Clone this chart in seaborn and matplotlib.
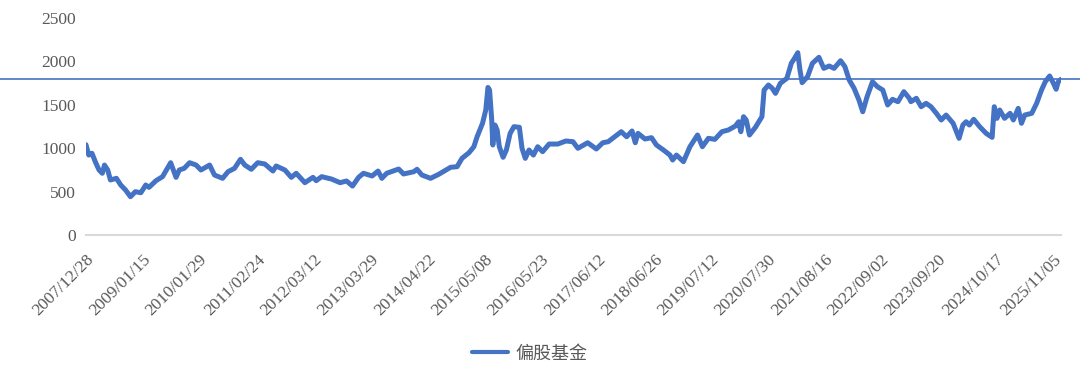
import matplotlib
matplotlib.use("Agg")
import matplotlib.pyplot as plt
import numpy as np
import pandas as pd
import seaborn as sns

SERIES_NAME = "偏股基金"
REF_LEVEL = 1795

# decimal-year positions of the traced points
years = [
    2007.99, 2008.04, 2008.10, 2008.16, 2008.23, 2008.29, 2008.33, 2008.39, 2008.44, 2008.55,
    2008.63, 2008.72, 2008.81, 2008.90, 2009.00, 2009.09, 2009.15, 2009.28, 2009.40, 2009.49,
    2009.55, 2009.65, 2009.71, 2009.80, 2009.90, 2010.02, 2010.11, 2010.27, 2010.36, 2010.51,
    2010.61, 2010.73, 2010.84, 2010.92, 2011.04, 2011.16, 2011.29, 2011.44, 2011.50, 2011.66,
    2011.78, 2011.87, 2012.03, 2012.18, 2012.24, 2012.34, 2012.52, 2012.68, 2012.80, 2012.91,
    2013.02, 2013.11, 2013.27, 2013.38, 2013.45, 2013.54, 2013.76, 2013.85, 2014.04, 2014.10,
    2014.19, 2014.35, 2014.50, 2014.72, 2014.84, 2014.93, 2015.06, 2015.15, 2015.21, 2015.31,
    2015.37, 2015.41, 2015.44, 2015.48, 2015.50, 2015.54, 2015.58, 2015.62, 2015.69, 2015.75,
    2015.82, 2015.89, 2015.99, 2016.04, 2016.10, 2016.17, 2016.25, 2016.33, 2016.42, 2016.54,
    2016.70, 2016.85, 2016.98, 2017.07, 2017.25, 2017.41, 2017.53, 2017.63, 2017.75, 2017.87,
    2017.97, 2018.07, 2018.13, 2018.18, 2018.31, 2018.43, 2018.52, 2018.65, 2018.77, 2018.82,
    2018.89, 2019.02, 2019.14, 2019.28, 2019.37, 2019.48, 2019.60, 2019.73, 2019.85, 2019.98,
    2020.04, 2020.08, 2020.13, 2020.18, 2020.24, 2020.35, 2020.47, 2020.51, 2020.59, 2020.66,
    2020.72, 2020.81, 2020.93, 2021.01, 2021.07, 2021.13, 2021.17, 2021.21, 2021.31, 2021.40,
    2021.52, 2021.61, 2021.71, 2021.80, 2021.92, 2022.00, 2022.08, 2022.17, 2022.26, 2022.33,
    2022.41, 2022.51, 2022.60, 2022.70, 2022.79, 2022.88, 2022.98, 2023.09, 2023.19, 2023.22,
    2023.32, 2023.41, 2023.50, 2023.59, 2023.69, 2023.78, 2023.87, 2024.00, 2024.11, 2024.18,
    2024.24, 2024.30, 2024.38, 2024.49, 2024.61, 2024.72, 2024.76, 2024.81, 2024.86, 2024.95,
    2025.05, 2025.11, 2025.20, 2025.26, 2025.32, 2025.45, 2025.54, 2025.63, 2025.70, 2025.78,
    2025.85, 2025.90, 2025.94, 2025.99,
]

values = [
    1040, 921, 941, 845, 749, 711, 806, 749, 634, 653,
    576, 518, 441, 499, 487, 576, 549, 626, 672, 768,
    833, 664, 749, 768, 833, 806, 749, 806, 691, 653,
    729, 768, 872, 806, 757, 833, 818, 737, 795, 749,
    664, 711, 603, 664, 626, 672, 645, 603, 622, 564,
    664, 711, 680, 737, 653, 711, 760, 703, 729, 757,
    691, 653, 699, 780, 787, 883, 948, 1017, 1132, 1287,
    1440, 1700, 1670, 1325, 1037, 1267, 1210, 1017, 895, 979,
    1171, 1248, 1241, 999, 883, 979, 921, 1017, 960, 1048,
    1048, 1083, 1075, 999, 1063, 991, 1063, 1075, 1132, 1190,
    1132, 1198, 1063, 1171, 1106, 1121, 1037, 979, 921, 864,
    921, 845, 1017, 1152, 1017, 1114, 1102, 1190, 1210, 1256,
    1305, 1190, 1363, 1325, 1152, 1241, 1363, 1670, 1728, 1690,
    1632, 1748, 1805, 1978, 2036, 2100, 1901, 1755, 1824, 1978,
    2047, 1920, 1947, 1920, 2008, 1940, 1786, 1690, 1555, 1420,
    1593, 1766, 1709, 1670, 1498, 1563, 1536, 1651, 1575, 1536,
    1575, 1478, 1517, 1478, 1402, 1325, 1382, 1287, 1114, 1267,
    1305, 1267, 1333, 1248, 1171, 1125, 1478, 1344, 1440, 1344,
    1402, 1325, 1459, 1287, 1382, 1402, 1517, 1670, 1766, 1832,
    1748, 1679, 1766, 1794,
]

tick_labels = [
    "2007/12/28", "2009/01/15", "2010/01/29", "2011/02/24", "2012/03/12",
    "2013/03/29", "2014/04/22", "2015/05/08", "2016/05/23", "2017/06/12",
    "2018/06/26", "2019/07/12", "2020/07/30", "2021/08/16", "2022/09/02",
    "2023/09/20", "2024/10/17", "2025/11/05",
]

y_ticks = [0, 500, 1000, 1500, 2000, 2500]

BLUE = "#4472C4"
GREY = "#595959"


def to_ts(y):
    yr = int(y)
    return pd.Timestamp(yr, 1, 1) + pd.Timedelta(days=(y - yr) * 365.25)


dates = [to_ts(y) for y in years]
dates[0] = pd.Timestamp(2007, 12, 28)
df = pd.DataFrame({"date": dates, "value": values})
tick_dates = pd.to_datetime(tick_labels, format="%Y/%m/%d")

sns.set_theme(style="white")
plt.rcParams["font.family"] = ["Liberation Serif", "Noto Sans CJK SC", "DejaVu Sans"]

W, H = 1080, 382
fig = plt.figure(figsize=(W / 100, H / 100), dpi=100)
ax_l, ax_r, ax_t, ax_b = 86, 1061, 18, 235
ax = fig.add_axes([ax_l / W, 1 - ax_b / H, (ax_r - ax_l) / W, (ax_b - ax_t) / H])

sns.lineplot(data=df, x="date", y="value", ax=ax, color=BLUE, linewidth=3.6,
             label=SERIES_NAME, legend=False)

aw = ax_r - ax_l
ax.axhline(REF_LEVEL, xmin=-ax_l / aw, xmax=(W - ax_l) / aw, clip_on=False,
           color=BLUE, linewidth=1.2)

ax.set_xlim(df["date"].min(), df["date"].max())
ax.set_ylim(y_ticks[0], y_ticks[-1])
ax.set_yticks(y_ticks)
ax.set_xticks(tick_dates)
ax.set_xticklabels(tick_labels, rotation=45, ha="right", rotation_mode="anchor")
ax.set_xlabel("")
ax.set_ylabel("")

for s in ["top", "right", "left"]:
    ax.spines[s].set_visible(False)
ax.spines["bottom"].set_color("#D9D9D9")
ax.spines["bottom"].set_linewidth(1.5)
ax.tick_params(axis="both", length=0, colors=GREY, labelsize=12.5)
ax.tick_params(axis="y", pad=7)
ax.tick_params(axis="x", pad=12)
ax.grid(False)

handle = plt.Line2D([], [], color=BLUE, linewidth=3)
leg = fig.legend([handle], [SERIES_NAME], loc="center",
                 bbox_to_anchor=(530 / W, 1 - 354 / H), frameon=False,
                 fontsize=13, handlelength=2.0, handletextpad=0.4,
                 labelcolor=GREY)

fig.savefig("out.png", dpi=100)
